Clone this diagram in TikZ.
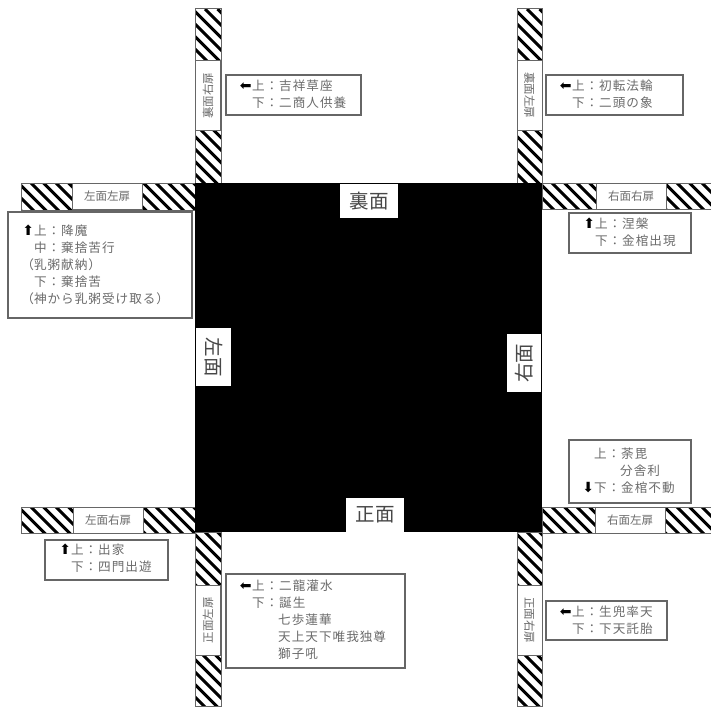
\documentclass[tikz,border=0pt]{standalone}
\usepackage{fontspec}
\setmainfont{Noto Sans CJK JP}
\newfontfamily\jp[LetterSpace=8]{Noto Sans CJK JP}
\newfontfamily\arrowfont{DejaVu Sans}
\definecolor{edge}{gray}{0.4}
\definecolor{ink}{gray}{0.42}
\newcommand{\ARL}{\llap{{\arrowfont\color{black}\fontsize{14pt}{11pt}\selectfont ⬅}\hspace{0.5pt}}}
\newcommand{\ARU}{\llap{{\arrowfont\color{black}\fontsize{14pt}{11pt}\selectfont ⬆}\hspace{0pt}}}
\newcommand{\ARD}{\llap{{\arrowfont\color{black}\fontsize{14pt}{11pt}\selectfont ⬇}\hspace{0pt}}}
\newcommand{\hatched}[4]{%
  \begin{scope}
    \clip (#1,#2) rectangle (#3,#4);
    \foreach \k in {-240,-227.5,...,240} {
      \draw[black,line width=2.9pt] (#1+\k,#2) -- ++(240,240);
    }
  \end{scope}
  \draw[edge,line width=1pt] (#1,#2) rectangle (#3,#4);
}
\tikzset{
  x=1pt,y=-1pt,
  panel/.style={draw=edge,line width=1pt,fill=white,inner sep=0pt,outer sep=0pt,minimum width=#1,font=\fontsize{11.5pt}{12pt}\selectfont,text=ink},
  callout/.style={draw=edge,line width=1.2pt,fill=white,anchor=north west,inner sep=0pt,outer sep=0pt},
  lines/.style={anchor=north west,inner sep=0pt,outer sep=0pt,align=left,text=ink,font=\jp\fontsize{12.6pt}{17pt}\selectfont},
  face/.style={fill=white,inner sep=0pt,outer sep=0pt,minimum width=58pt,minimum height=34.5pt,text=black!72,font=\fontsize{19.5pt}{20pt}\selectfont},
}
\begin{document}
\begin{tikzpicture}
\useasboundingbox (0,0) rectangle (711,706);
\fill[white] (0,0) rectangle (711,706);
% hatched screens
\hatched{195}{9}{221}{183}
\hatched{517}{9}{542}{183}
\hatched{195}{532}{221}{706}
\hatched{517}{532}{542}{706}
\hatched{21}{183}{195}{210}
\hatched{21}{507}{195}{533}
\hatched{542}{183}{711}{209}
\hatched{542}{507}{711}{533}
% centre
\fill[black] (195,183) rectangle (542,532);
% screen labels
\node[panel=70pt,minimum height=25pt,rotate=90] (tl) at (208,95.5) {裏面右扉};
\node[panel=70pt,minimum height=25pt,rotate=-90] (tr) at (529.5,95.5) {裏面左扉};
\node[panel=70pt,minimum height=25pt,rotate=90] (bl) at (208,620) {正面左扉};
\node[panel=70pt,minimum height=25pt,rotate=-90] (br) at (529.5,620) {正面右扉};
\node[panel=70pt,minimum height=26pt] (lt) at (107,196.5) {左面左扉};
\node[panel=70pt,minimum height=26pt] (lb) at (108,520) {左面右扉};
\node[panel=70pt,minimum height=26pt] (rt) at (631,196) {右面右扉};
\node[panel=70pt,minimum height=26pt] (rb) at (630,520) {右面左扉};
% face labels
\node[face] (back) at (369,201) {裏面};
\node[face] (front) at (375,515) {正面};
\node[face,rotate=-90] (left) at (213.5,357) {左面};
\node[face,rotate=90] (right) at (524,363) {右面};
% callouts
\node[callout,minimum width=135pt,minimum height=40pt] (c1) at (226,75) {};
\node[lines] (c1t) at (252,79.5) {\ARL 上：吉祥草座\\下：二商人供養};
\node[callout,minimum width=137pt,minimum height=40pt] (c2) at (546,75) {};
\node[lines] (c2t) at (572,79.5) {\ARL 上：初転法輪\\下：二頭の象};
\node[callout,minimum width=122pt,minimum height=40pt] (c3) at (569,213) {};
\node[lines] (c3t) at (595,217.5) {\ARU 上：涅槃\\下：金棺出現};
\node[callout,minimum width=184pt,minimum height=106pt] (c4) at (8,212) {};
\node[lines] (c4t) at (34,224.5) {\ARU 上：降魔\\中：棄捨苦行\\\llap{（}乳粥献納）\\下：棄捨苦\\\llap{（}神から乳粥受け取る）};
\node[callout,minimum width=122pt,minimum height=63pt] (c5) at (569,440) {};
\node[lines] (c5t) at (594,447.5) {上：荼毘\\\phantom{上：}分舎利\\\ARD 下：金棺不動};
\node[callout,minimum width=123pt,minimum height=40pt] (c6) at (45,540) {};
\node[lines] (c6t) at (71,543.5) {\ARU 上：出家\\下：四門出遊};
\node[callout,minimum width=179pt,minimum height=94pt] (c7) at (226,574) {};
\node[lines] (c7t) at (252,579.5) {\ARL 上：二龍灌水\\下：誕生\\\phantom{下：}七歩蓮華\\\phantom{下：}天上天下唯我独尊\\\phantom{下：}獅子吼};
\node[callout,minimum width=121pt,minimum height=39pt] (c8) at (546,601) {};
\node[lines] (c8t) at (572,605.5) {\ARL 上：生兜率天\\下：下天託胎};
\end{tikzpicture}
\end{document}
